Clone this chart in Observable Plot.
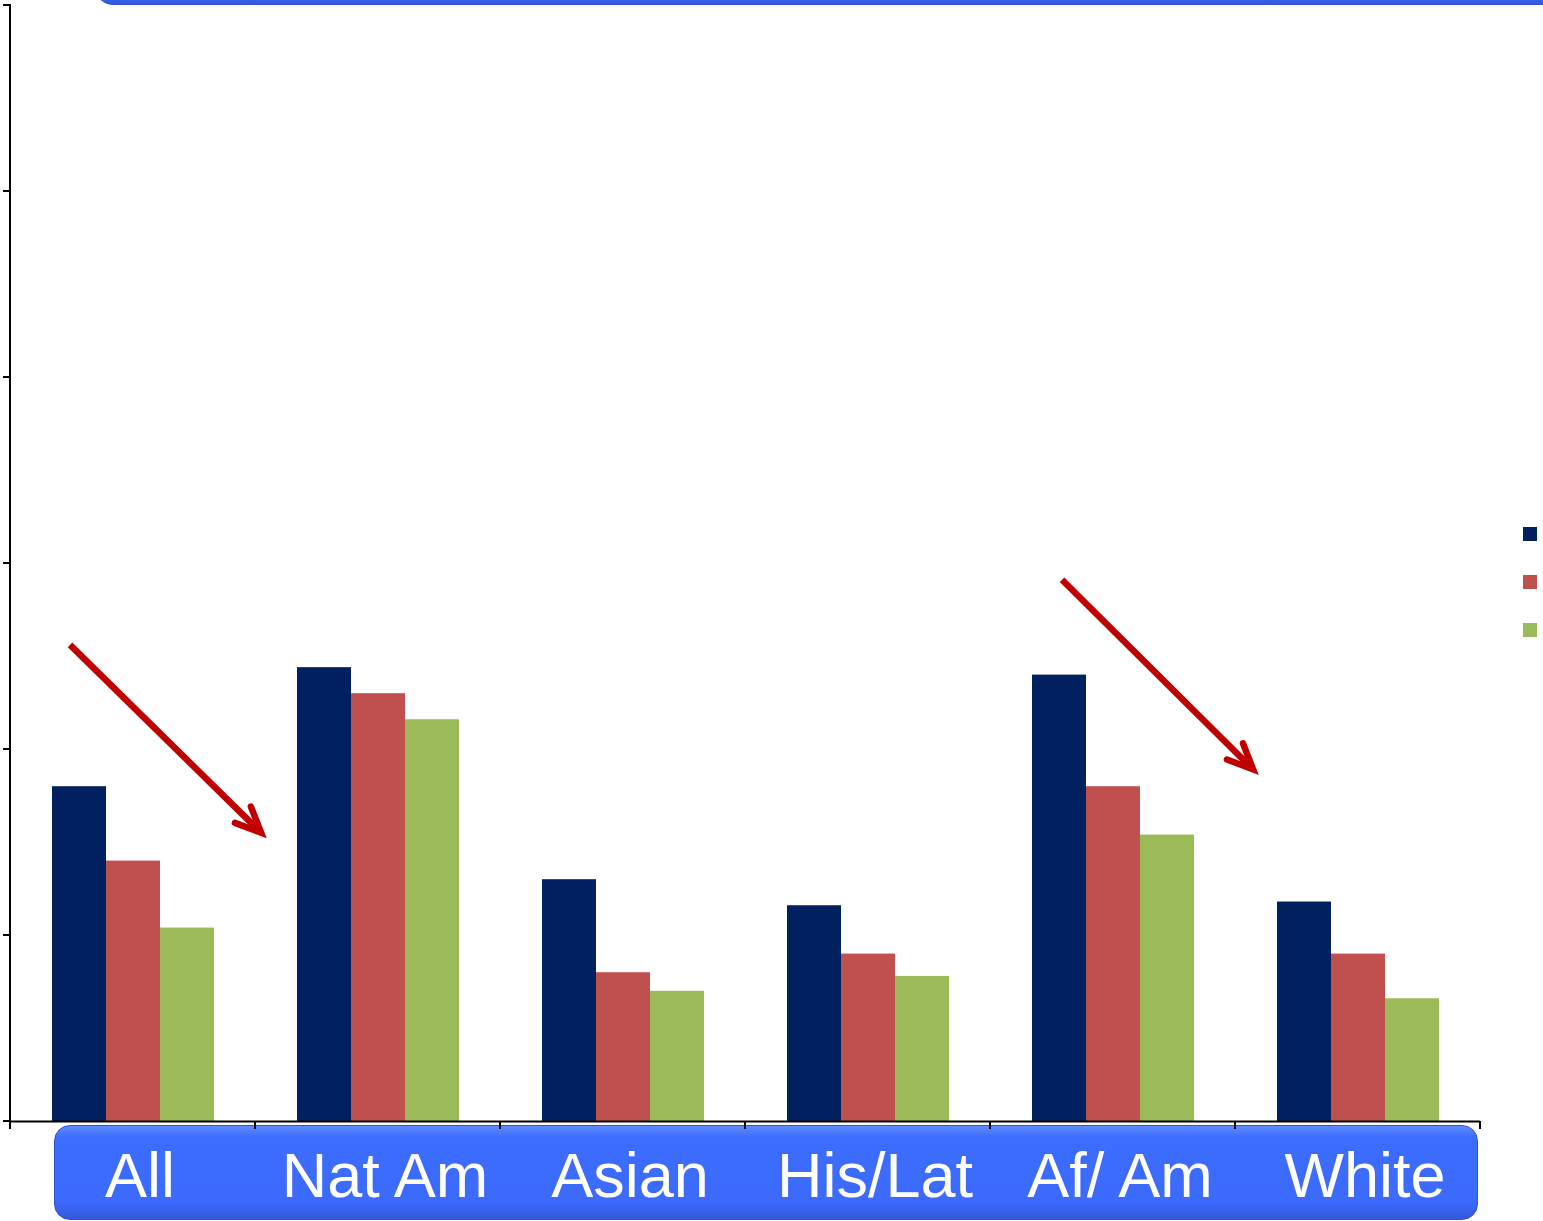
<!DOCTYPE html>
<html>
<head>
<meta charset="utf-8">
<script src="https://cdn.jsdelivr.net/npm/d3@7"></script>
<script src="https://cdn.jsdelivr.net/npm/@observablehq/plot@0.6"></script>
<style>
  html, body { margin: 0; padding: 0; background: #fff; overflow: hidden; }
  #stage { position: relative; width: 1543px; height: 1221px; overflow: hidden; font-family: "Liberation Sans", Arial, sans-serif; }
  .band {
    position: absolute;
    background: linear-gradient(#5f8bff 0%, #3d6dff 12%, #3b6afc 80%, #3459dc 100%);
    border: 1.5px solid #2f52c9;
    box-sizing: border-box;
  }
  #title-band { left: 95px; top: -90px; width: 1470px; height: 95px; border-radius: 0 0 18px 18px; }
  #label-band { left: 54px; top: 1125px; width: 1424px; height: 95px; border-radius: 16px; }
  #chart { position: absolute; left: 0; top: 0; }
  #legend { position: absolute; left: 1523px; top: 527px; }
  .swatch { width: 14px; height: 14px; margin-bottom: 34px; }
</style>
</head>
<body>
<div id="stage">
  <div id="title-band" class="band"></div>
  <div id="label-band" class="band"></div>
  <div id="chart"></div>
  <div id="legend"></div>
</div>
<script>
// Groups along the horizontal axis
const categories = ["All", "Nat Am", "Asian", "His/Lat", "Af/ Am", "White"];
// The three bar series, in draw order
const seriesNames = ["Series 1", "Series 2", "Series 3"];
const series1 = [9.0, 12.2, 6.5, 5.8, 12.0, 5.9];
const series2 = [7.0, 11.5, 4.0, 4.5, 9.0, 4.5];
const series3 = [5.2, 10.8, 3.5, 3.9, 7.7, 3.3];
const seriesColors = ["#002060", "#C0504D", "#9BBB59"];
const yTicks = [0, 5, 10, 15, 20, 25, 30];

// Downward trend arrows: start/end given as group + fraction across the group, and a value
const arrowFromGroup = ["All", "Af/ Am"];
const arrowFromFrac = [0.245, 0.294];
const arrowFromValue = [12.8, 14.55];
const arrowToGroup = ["Nat Am", "White"];
const arrowToFrac = [0.025, 0.074];
const arrowToValue = [7.75, 9.45];

const seriesValues = [series1, series2, series3];
const rows = [];
categories.forEach((c, i) => {
  seriesNames.forEach((s, j) => rows.push({category: c, series: s, value: seriesValues[j][i]}));
});

const chart = Plot.plot({
  width: 1543,
  height: 1221,
  marginTop: 5,
  marginBottom: 100,
  marginLeft: 10,
  marginRight: 63,
  style: {background: "transparent", overflow: "visible", fontFamily: "Liberation Sans, Arial, sans-serif"},
  fx: {domain: categories, padding: 0, label: null},
  x: {domain: seriesNames, paddingInner: 0, paddingOuter: 0.75, axis: null},
  y: {domain: [0, 30], axis: null},
  color: {domain: seriesNames, range: seriesColors},
  marks: [
    Plot.barY(rows, {fx: "category", x: "series", y: "value", fill: "series"}),
    Plot.ruleY([0], {stroke: "#000", strokeWidth: 2}),
    Plot.axisFx({anchor: "bottom", tickSize: 0, tickPadding: 31, fontSize: 63, fill: "#fff", dx: 7, label: null})
  ]
});

document.getElementById("chart").appendChild(chart);

// Value axis, category boundary ticks and trend arrows, placed through the chart's own scales
const fx = chart.scale("fx");
const y = chart.scale("y");
const svg = d3.select(chart);
const bw = fx.bandwidth;
const y0 = y.apply(0);
const xLeft = fx.apply(categories[0]);

const axis = svg.append("g").attr("stroke", "#000").attr("stroke-width", 2);
axis.append("line")
  .attr("x1", xLeft).attr("x2", xLeft)
  .attr("y1", y.apply(yTicks[yTicks.length - 1]) - 1).attr("y2", y0 + 8);
axis.selectAll(".ytick")
  .data(yTicks)
  .join("line")
  .attr("class", "ytick")
  .attr("x1", xLeft - 7).attr("x2", xLeft)
  .attr("y1", d => y.apply(d)).attr("y2", d => y.apply(d));

const bounds = categories.map(c => fx.apply(c)).concat([fx.apply(categories[categories.length - 1]) + bw]);
axis.selectAll(".xtick")
  .data(bounds)
  .join("line")
  .attr("class", "xtick")
  .attr("x1", d => d).attr("x2", d => d)
  .attr("y1", y0).attr("y2", y0 + 8);

const arrows = svg.append("g").attr("fill", "none").attr("stroke", "#C00000").attr("stroke-width", 6.5);
arrowFromGroup.forEach((g, i) => {
  const xa = fx.apply(g) + arrowFromFrac[i] * bw;
  const ya = y.apply(arrowFromValue[i]);
  const xb = fx.apply(arrowToGroup[i]) + arrowToFrac[i] * bw;
  const yb = y.apply(arrowToValue[i]);
  const ang = Math.atan2(yb - ya, xb - xa);
  const head = 28, spread = Math.PI / 7.5;
  arrows.append("line")
    .attr("x1", xa).attr("y1", ya)
    .attr("x2", xb - Math.cos(ang) * 3).attr("y2", yb - Math.sin(ang) * 3);
  const p1 = [xb - head * Math.cos(ang - spread), yb - head * Math.sin(ang - spread)];
  const p2 = [xb - head * Math.cos(ang + spread), yb - head * Math.sin(ang + spread)];
  arrows.append("path")
    .attr("d", `M${p1[0]},${p1[1]}L${xb},${yb}L${p2[0]},${p2[1]}`)
    .attr("stroke-linecap", "round")
    .attr("stroke-linejoin", "miter");
});

// Legend swatches at the right edge
d3.select("#legend")
  .selectAll("div")
  .data(seriesNames)
  .join("div")
  .attr("class", "swatch")
  .attr("title", d => d)
  .style("background", (d, j) => seriesColors[j]);
</script>
</body>
</html>
